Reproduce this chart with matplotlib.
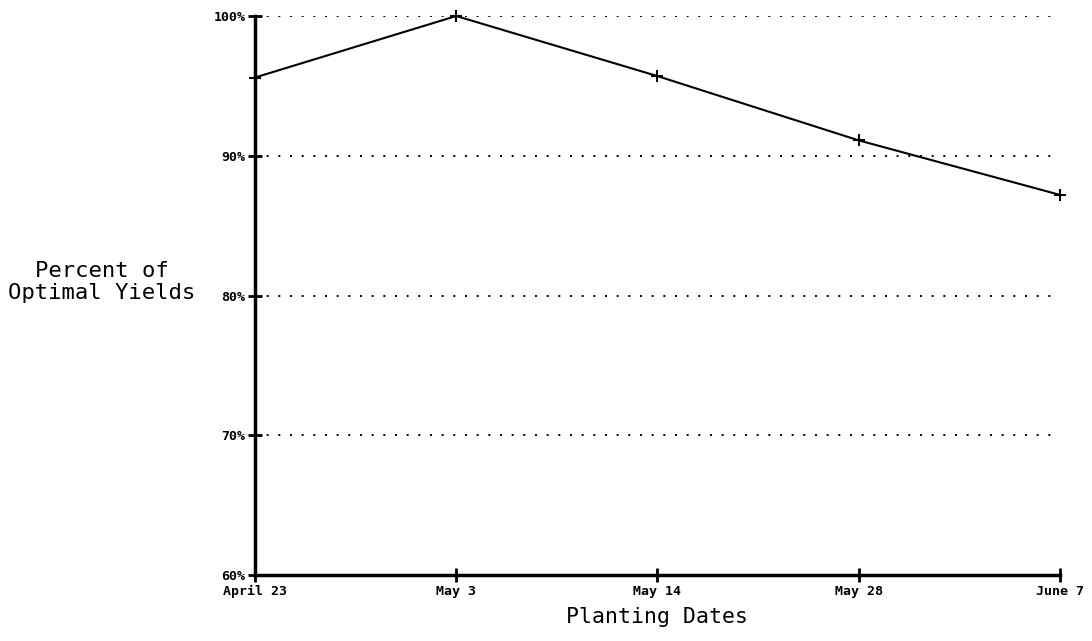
import matplotlib
matplotlib.use("Agg")
import matplotlib.pyplot as plt

dates = ["April 23", "May 3", "May 14", "May 28", "June 7"]
yields = [95.6, 100.0, 95.7, 91.1, 87.2]
y_ticks = [60, 70, 80, 90, 100]
y_tick_labels = ["60%", "70%", "80%", "90%", "100%"]

fig = plt.figure(figsize=(10.92, 6.41), dpi=100)
ax = fig.add_axes([0.2335, 0.103, 0.7372, 0.872])

x = list(range(len(dates)))
ax.plot(x, yields, color="black", linewidth=1.5, marker="+", markersize=9,
        markeredgewidth=1.5, zorder=3, clip_on=False)

for v in y_ticks[1:]:
    ax.axhline(v, color="black", linewidth=1.4, linestyle=(0, (1, 5)), zorder=1)

ax.set_xlim(0, len(dates) - 1)
ax.set_ylim(60, 100)
ax.set_xticks(x)
ax.set_xticklabels(dates, family="DejaVu Sans Mono", fontsize=9.5, fontweight="bold")
ax.set_yticks(y_ticks)
ax.set_yticklabels(y_tick_labels, family="DejaVu Sans Mono", fontsize=9.5, fontweight="bold")
ax.tick_params(axis="both", direction="inout", length=10, width=2, pad=2)

for s in ["top", "right"]:
    ax.spines[s].set_visible(False)
for s in ["left", "bottom"]:
    ax.spines[s].set_linewidth(2.5)

ax.set_xlabel("Planting Dates", family="DejaVu Sans Mono", fontsize=15.5, labelpad=7)
fig.text(0.093, 0.56, "Percent of\nOptimal Yields", family="DejaVu Sans Mono",
         fontsize=16, ha="center", va="center", linespacing=1.1)

fig.savefig("out.png", dpi=100)
